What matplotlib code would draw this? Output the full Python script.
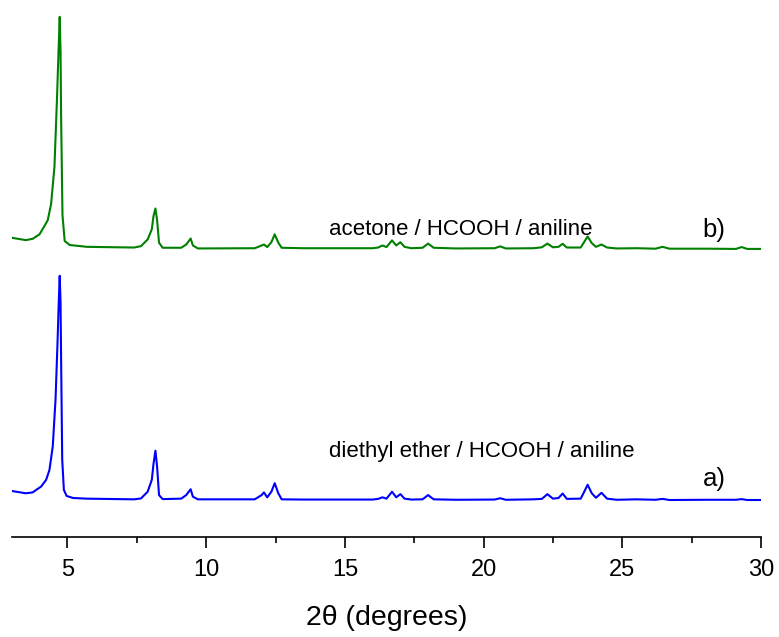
import numpy as np
import matplotlib
matplotlib.use("Agg")
import matplotlib.pyplot as plt
from matplotlib.ticker import MultipleLocator

plt.rcParams['font.family'] = ['Liberation Sans', 'DejaVu Sans']

# blue trace: a) diethyl ether / HCOOH / aniline  (intensity, % of main peak)
blue_x = [3.0, 3.5, 3.75, 3.87, 4.05, 4.23, 4.35, 4.47, 4.57, 4.64, 4.69, 4.72, 4.75, 4.77, 4.81, 4.87,
          4.97, 5.2, 5.7, 7.4, 7.65, 7.89, 8.04, 8.1, 8.17, 8.23, 8.3, 8.43, 9.1, 9.28, 9.44,
          9.52, 9.7, 11.75, 12.0, 12.08, 12.2, 12.35, 12.47, 12.6, 12.72, 13.5, 16.0, 16.2,
          16.35, 16.5, 16.7, 16.85, 17.0, 17.15, 17.4, 17.8, 18.0, 18.2, 19.0, 20.4, 20.6,
          20.8, 21.8, 22.1, 22.3, 22.5, 22.7, 22.85, 23.0, 23.5, 23.6, 23.75, 23.9, 24.05,
          24.25, 24.45, 24.8, 25.5, 26.2, 26.45, 26.7, 28.0, 29.1, 29.3, 29.5, 30.0]
blue_y = [4.0, 3.0, 3.4, 4.5, 6.0, 9.0, 13.4, 24.0, 45.0, 70.0, 90.0, 100.0, 88.0, 63.0, 18.0, 4.5,
          1.8, 0.9, 0.6, 0.3, 0.7, 3.7, 9.0, 16.0, 22.0, 15.0, 2.2, 0.4, 0.6, 2.2, 4.8,
          1.5, 0.3, 0.3, 2.2, 3.4, 1.2, 3.7, 7.5, 3.0, 0.3, 0.2, 0.2, 0.5,
          1.2, 0.6, 3.7, 1.2, 2.6, 0.6, 0.2, 0.3, 2.2, 0.3, 0.1, 0.2, 0.8,
          0.1, 0.3, 0.5, 2.6, 0.6, 0.9, 2.9, 0.5, 0.6, 3.0, 6.8, 3.0, 1.0,
          3.2, 0.6, 0.1, 0.3, 0.1, 0.5, 0.0, 0.1, 0.1, 0.4, 0.0, 0.0]

# green trace: b) acetone / HCOOH / aniline
green_x = [3.0, 3.5, 3.75, 3.99, 4.17, 4.29, 4.41, 4.53, 4.62, 4.68, 4.72, 4.75, 4.77, 4.82, 4.9,
           5.08, 5.7, 7.4, 7.65, 7.89, 8.04, 8.1, 8.17, 8.23, 8.3, 8.43, 9.1, 9.28, 9.44,
           9.52, 9.7, 11.75, 12.0, 12.08, 12.2, 12.35, 12.47, 12.6, 12.72, 13.5, 16.0, 16.2,
           16.35, 16.5, 16.7, 16.85, 17.0, 17.15, 17.4, 17.8, 18.0, 18.2, 19.0, 20.4, 20.6,
           20.8, 21.8, 22.1, 22.3, 22.5, 22.7, 22.85, 23.0, 23.5, 23.6, 23.75, 23.9, 24.05,
           24.25, 24.45, 24.8, 25.5, 26.2, 26.45, 26.7, 28.0, 29.1, 29.3, 29.5, 30.0]
green_y = [4.3, 3.3, 3.9, 5.8, 9.4, 12.0, 19.0, 35.0, 64.0, 86.0, 100.0, 85.0, 57.0, 14.0, 2.9,
           1.2, 0.4, 0.1, 0.7, 3.6, 8.0, 13.7, 17.0, 12.0, 2.2, 0.0, 0.0, 1.4, 4.0,
           1.0, -0.3, -0.2, 1.0, 1.4, 0.3, 2.4, 5.8, 2.2, 0.0, -0.2, -0.2, 0.1,
           1.0, 0.3, 3.2, 1.0, 2.4, 0.4, -0.2, 0.0, 1.8, 0.0, -0.3, -0.2, 0.6,
           -0.3, -0.2, 0.2, 1.8, 0.2, 0.4, 1.7, 0.1, 0.1, 2.0, 4.9, 2.0, 0.4,
           1.4, 0.1, -0.3, -0.2, -0.4, 0.4, -0.4, -0.4, -0.5, 0.3, -0.5, -0.5]

green_offset = 112.5
green_scale = 1.03

fig = plt.figure(figsize=(7.79, 6.37), dpi=100)
ax = fig.add_axes([12 / 779, 100 / 637, 749 / 779, 537 / 637])

ax.plot(blue_x, blue_y, color='#0000ff', lw=1.5)
ax.plot(green_x, np.array(green_y) * green_scale + green_offset, color='#008000', lw=1.5)

ax.set_xlim(3, 30)
ax.set_ylim(-16.5, 223)

for s in ['top', 'left', 'right']:
    ax.spines[s].set_visible(False)
ax.spines['bottom'].set_linewidth(1.2)
ax.set_yticks([])
ax.xaxis.set_major_locator(MultipleLocator(5))
ax.xaxis.set_minor_locator(MultipleLocator(2.5))
ax.tick_params(axis='x', which='major', direction='out', length=8, width=1.2,
               labelsize=17, pad=8)
ax.tick_params(axis='x', which='minor', direction='out', length=4, width=1.2)
ax.set_xlabel('2\u03b8 (degrees)', fontsize=20.5, labelpad=17)

ax.text(14.42, 118.3, 'acetone / HCOOH / aniline', fontsize=16, ha='left', va='baseline')
ax.text(27.9, 117.4, 'b)', fontsize=18.5, ha='left', va='baseline')
ax.text(14.42, 19.2, 'diethyl ether / HCOOH / aniline', fontsize=16, ha='left', va='baseline')
ax.text(27.9, 6.3, 'a)', fontsize=18.5, ha='left', va='baseline')

fig.savefig('out.png', dpi=100)
